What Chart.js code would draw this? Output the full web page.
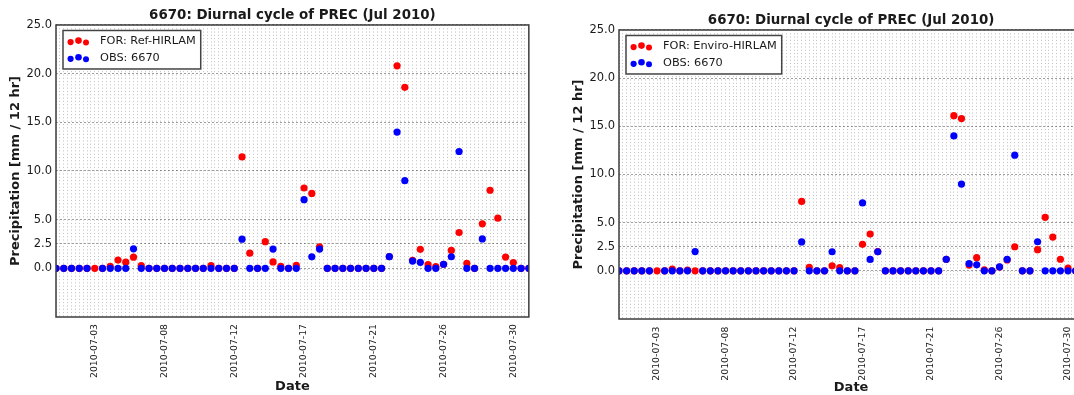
<!DOCTYPE html>
<html>
<head>
<meta charset="utf-8">
<script src="https://cdn.jsdelivr.net/npm/chart.js@4.4.1/dist/chart.umd.min.js"></script>
<style>
  html, body { margin: 0; padding: 0; background: #fff; overflow: hidden; width: 1074px; height: 395px; }
  canvas { position: absolute; top: 0; }
  #refChart { left: 0; }
  #envChart { left: 560px; }
</style>
</head>
<body>
<canvas id="refChart" width="547" height="395"></canvas>
<canvas id="envChart" width="542" height="395"></canvas>
<script>
// ---- labels ----
const station = '6670';
const chartTitle = '6670: Diurnal cycle of PREC (Jul 2010)';
const yAxisTitle = 'Precipitation [mm / 12 hr]';
const xAxisTitle = 'Date';

// 12-hourly accumulation windows, 1 Jul 00 UTC ... 31 Jul 12 UTC (day of month)
const firstDay = 1;
const stepDays = 0.5;

// date ticks (day of month -> label)
const xTickDays = [3.5, 8, 12.5, 17, 21.5, 26, 30.5];
const xTickLabels = ['2010-07-03', '2010-07-08', '2010-07-12', '2010-07-17', '2010-07-21', '2010-07-26', '2010-07-30'];
const yTickValues = [0, 2.5, 5, 10, 15, 20, 25];
const yTickLabels = ['0.0', '2.5', '5.0', '10.0', '15.0', '20.0', '25.0'];

// ---- observed 12 h precipitation at station 6670 (mm) ----
const obs6670 = [
  0, 0, 0, 0, 0, null, 0, 0, 0, 0,
  2.0, 0, 0, 0, 0, 0, 0, 0, 0, 0,
  0, 0, 0, 0, 3.0, 0, 0, 0, 1.98, 0,
  0, 0, 7.05, 1.18, 1.98, 0, 0, 0, 0, 0,
  0, 0, 0, 1.2, 14.0, 9.0, 0.75, 0.62, 0, 0,
  0.42, 1.19, 12.0, 0, 0, 3.02, 0, 0, 0, 0,
  0, 0
];

// ---- forecast, Ref-HIRLAM (mm) ----
const forRefHirlam = [
  0, 0, 0, 0, 0, 0, 0, 0.2, 0.85, 0.63,
  1.15, 0.28, 0, 0, 0, 0, 0, 0, 0, 0,
  0.28, 0, 0, 0, 11.45, 1.56, 0, 2.74, 0.66, 0.2,
  0, 0.31, 8.25, 7.7, 2.2, 0, 0, 0, 0, 0,
  0, 0, 0, 1.2, 20.8, 18.6, 0.82, 1.95, 0.38, 0.17,
  0.42, 1.84, 3.68, 0.5, 0, 4.57, 8.02, 5.15, 1.16, 0.6,
  0, 0
];

// ---- forecast, Enviro-HIRLAM (mm) ----
const forEnviroHirlam = [
  0, 0, 0, 0, 0, 0, 0, 0.18, 0, 0.07,
  0, 0, 0, 0, 0, 0, 0, 0, 0, 0,
  0, 0, 0, 0, 7.2, 0.37, 0, 0, 0.52, 0.33,
  0, 0, 2.75, 3.82, 2.0, 0, 0, 0, 0, 0,
  0, 0, 0, 1.2, 16.1, 15.8, 0.6, 1.37, 0.1, 0,
  0.4, 1.13, 2.5, 0, 0, 2.2, 5.55, 3.5, 1.2, 0.28,
  0, 0
];

const FONT = 'DejaVu Sans';
const INK = '#1a1a1a';

// axes frame on all four sides
const framePlugin = {
  id: 'frame',
  afterDraw(chart) {
    const { ctx, chartArea: a } = chart;
    ctx.save();
    ctx.strokeStyle = '#3c3c3c';
    ctx.lineWidth = 1.5;
    ctx.strokeRect(a.left, a.top, a.right - a.left, a.bottom - a.top);
    ctx.restore();
  }
};

// boxed legend in the upper-left corner, three markers per entry
const boxedLegend = {
  id: 'boxedLegend',
  afterDraw(chart) {
    const { ctx, chartArea: a } = chart;
    const sets = chart.data.datasets;
    ctx.save();
    ctx.font = '11.3px "' + FONT + '"';
    const textW = Math.max(...sets.map(d => ctx.measureText(d.label).width));
    const x0 = a.left + 7, y0 = a.top + 5.5;
    const padL = 7.6, gap = 29.4, padR = 5, rowH = 16.7, h = 38.5;
    const w = padL + gap + textW + padR;
    ctx.fillStyle = '#fff';
    ctx.fillRect(x0, y0, w, h);
    ctx.strokeStyle = '#444';
    ctx.lineWidth = 1.5;
    ctx.strokeRect(x0, y0, w, h);
    const marks = [[0, 0.6, 3.1], [7.9, -0.9, 3.3], [15.4, 1.1, 3.0]];
    sets.forEach((d, k) => {
      const cy = y0 + 11 + k * rowH;
      ctx.fillStyle = d.backgroundColor;
      marks.forEach(([dx, dy, r]) => {
        ctx.beginPath();
        ctx.arc(x0 + padL + dx, cy + dy, r, 0, Math.PI * 2);
        ctx.fill();
      });
      ctx.fillStyle = INK;
      ctx.textAlign = 'left';
      ctx.textBaseline = 'middle';
      ctx.fillText(d.label, x0 + padL + gap, cy);
    });
    ctx.restore();
  }
};

function toPoints(values) {
  return values.map((v, i) => ({ x: firstDay + stepDays * i, y: v }));
}

function buildChart(canvasId, modelName, forecast, L) {
  return new Chart(document.getElementById(canvasId), {
    type: 'scatter',
    data: {
      datasets: [
        { label: 'FOR: ' + modelName, data: toPoints(forecast), backgroundColor: '#ff0000',
          borderWidth: 0, pointRadius: 3.6, pointHoverRadius: 3.6, order: 2 },
        { label: 'OBS: ' + station, data: toPoints(obs6670), backgroundColor: '#0000ff',
          borderWidth: 0, pointRadius: 3.6, pointHoverRadius: 3.6, order: 1 }
      ]
    },
    options: {
      responsive: false,
      animation: false,
      devicePixelRatio: 1,
      events: [],
      layout: { padding: { left: 0, right: 0, top: 0, bottom: 0 } },
      plugins: {
        legend: { display: false },
        tooltip: { enabled: false },
        title: {
          display: true, text: chartTitle, color: INK, fullSize: false,
          font: { family: FONT, size: 13.4, weight: 'bold', lineHeight: 1.2 },
          padding: { top: L.titleTop, bottom: L.titleBottom }
        }
      },
      scales: {
        x: {
          type: 'linear', min: 1, max: 31.5,
          afterBuildTicks: s => {
            const t = [];
            for (let d = 1; d <= 31.5; d += 0.25) t.push({ value: d });
            s.ticks = t;
          },
          afterFit: s => { s.height = L.xHeight; },
          ticks: {
            autoSkip: false, minRotation: 90, maxRotation: 90,
            padding: L.xPad, color: INK,
            font: { family: FONT, size: 9.3 },
            callback: v => { const k = xTickDays.indexOf(v); return k >= 0 ? xTickLabels[k] : ''; }
          },
          grid: { drawTicks: false, lineWidth: 1, color: 'rgba(0,0,0,0.25)' },
          border: { display: false, dash: [1, 2.3] },
          title: {
            display: true, text: xAxisTitle, color: INK,
            font: { family: FONT, size: 13, weight: 'bold', lineHeight: 1.2 },
            padding: { top: 0, bottom: L.xTitleBottom }
          }
        },
        y: {
          min: -5, max: 25,
          afterBuildTicks: s => { s.ticks = [-5].concat(yTickValues).map(v => ({ value: v })); },
          afterFit: s => { s.width = L.yWidth; },
          ticks: {
            padding: 4, color: INK, font: { family: FONT, size: 11.5 },
            callback: v => { const k = yTickValues.indexOf(v); return k >= 0 ? yTickLabels[k] : ''; }
          },
          grid: {
            drawTicks: false, lineWidth: 1,
            color: c => (c.tick && c.tick.value === -5) ? 'rgba(0,0,0,0)' : 'rgba(0,0,0,0.38)'
          },
          border: { display: false, dash: [2, 2] },
          title: {
            display: true, text: yAxisTitle, color: INK,
            font: { family: FONT, size: 13, weight: 'bold', lineHeight: 1.2 },
            padding: { top: L.yTitlePad, bottom: 0 }
          }
        }
      }
    },
    plugins: [framePlugin, boxedLegend]
  });
}

buildChart('refChart', 'Ref-HIRLAM', forRefHirlam, {
  titleTop: 7, titleBottom: 1.9, yWidth: 56, xHeight: 78,
  xPad: 7, xTitleBottom: 0.5, yTitlePad: 8.2
});
buildChart('envChart', 'Enviro-HIRLAM', forEnviroHirlam, {
  titleTop: 12.7, titleBottom: 1.2, yWidth: 59, xHeight: 76,
  xPad: 7.6, xTitleBottom: 0, yTitlePad: 11.2
});
</script>
</body>
</html>
